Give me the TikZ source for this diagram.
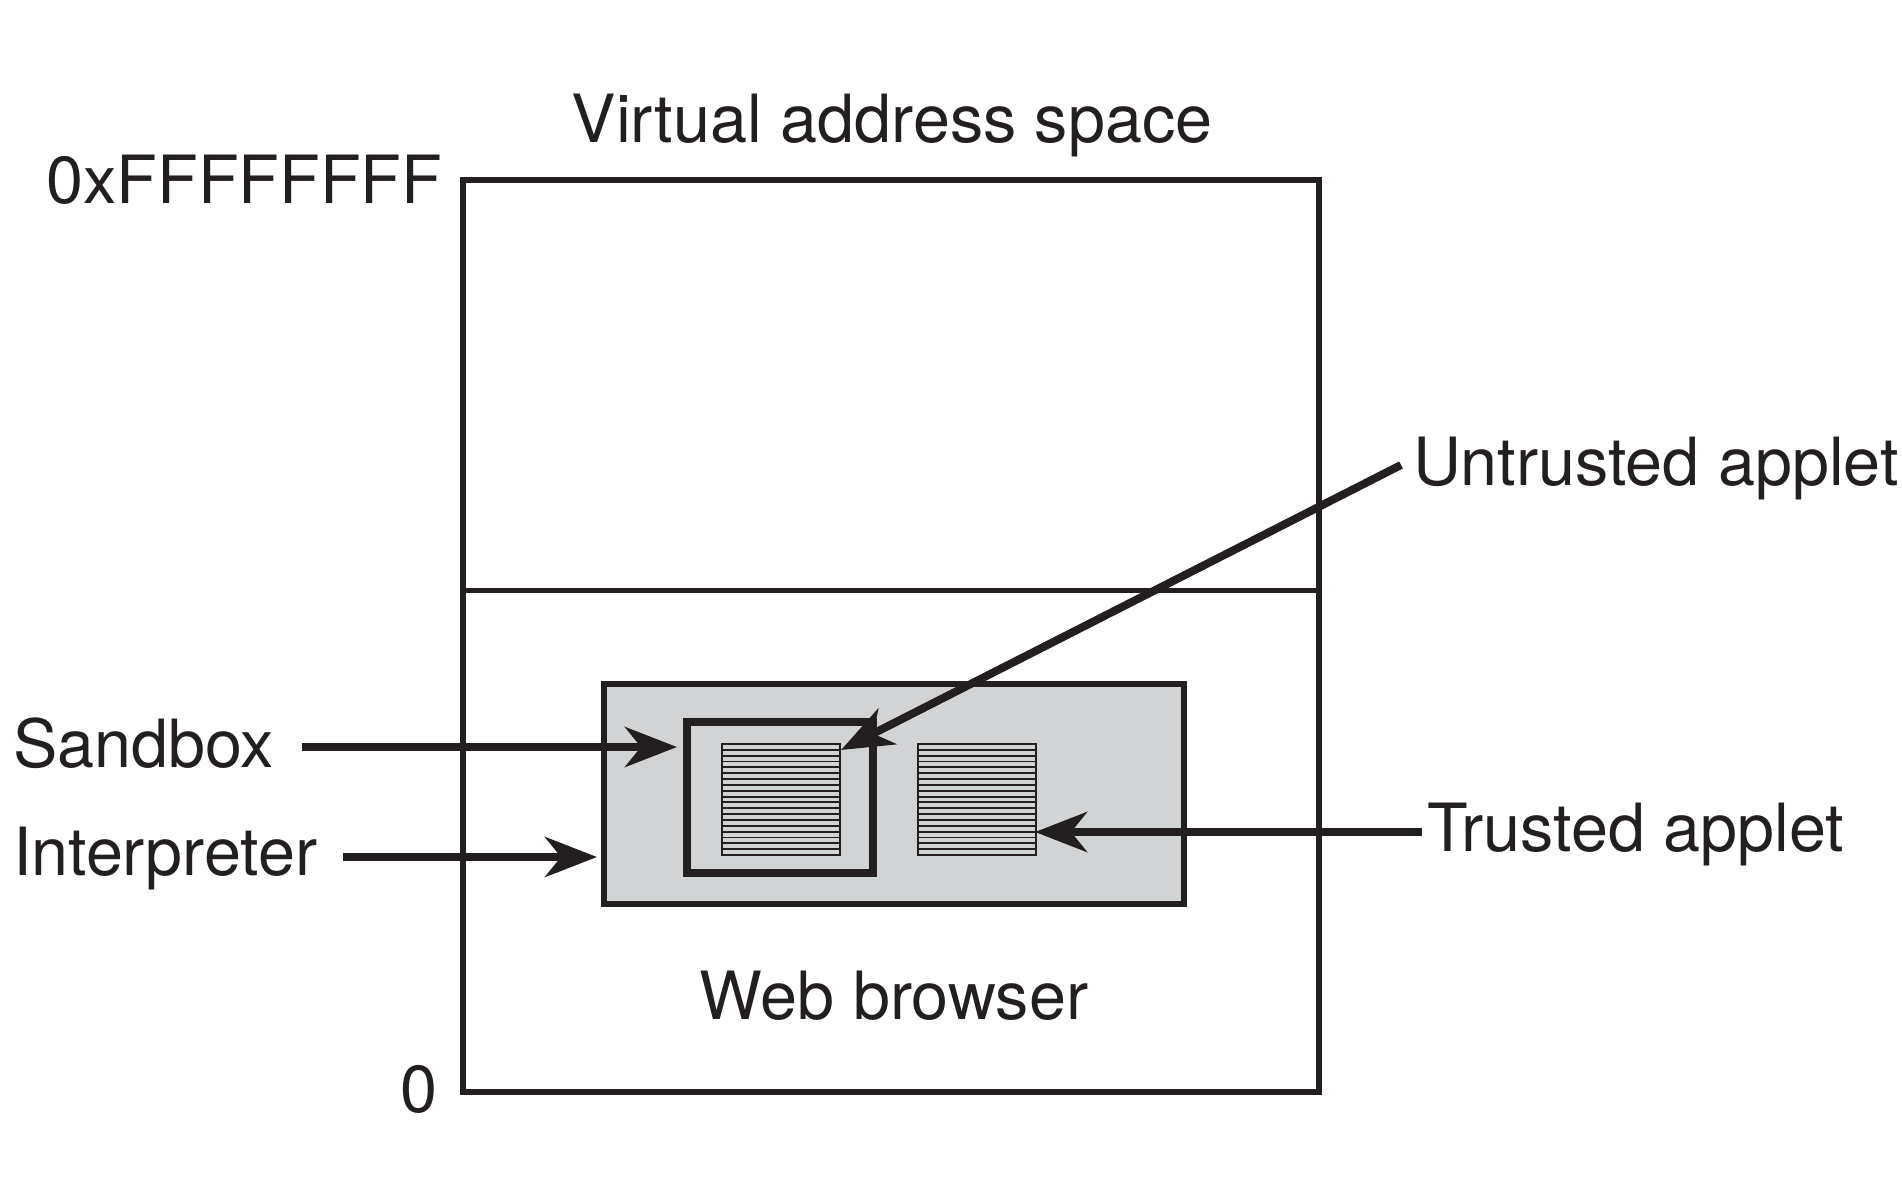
\documentclass[tikz,border=0pt]{standalone}
\usepackage{fontspec}
\setmainfont{TeX Gyre Heros}
\usetikzlibrary{arrows.meta,calc}
\definecolor{ink}{RGB}{35,31,32}
\definecolor{panel}{RGB}{210,211,213}
\begin{document}
\begin{tikzpicture}[x=1pt,y=-1pt,
  lbl/.style={inner sep=0pt, outer sep=0pt, font=\fontsize{66.5}{80}\selectfont, text=ink},
  box/.style={draw=ink, rectangle, inner sep=0pt, outer sep=0pt},
  arr/.style={draw=ink, line width=8pt, -{Stealth[length=52pt,width=40pt,inset=16pt]}},
  hatchbox/.style={box, line width=2pt, fill=panel},
  hatchline/.style={draw=ink, line width=1.9pt}]
\useasboundingbox (0,0) rectangle (1902,1200);

% main address-space box
\node[box, line width=6pt, minimum width=856pt, minimum height=912pt] (vas) at (891,636) {};
\coordinate (div) at (0,590);
\draw[ink, line width=5pt] (vas.west |- div) -- (vas.east |- div);

% interpreter (web browser) panel
\node[box, line width=6pt, fill=panel, minimum width=580pt, minimum height=220pt] (interp) at (894,794) {};
% sandbox
\node[box, line width=8pt, minimum width=186pt, minimum height=151pt] (sbox) at (780,797.5) {};
% applets
\node[hatchbox, minimum width=118pt, minimum height=111pt] (ua) at (781,799.5) {};
\node[hatchbox, minimum width=118pt, minimum height=111pt] (ta) at (977,799.5) {};
\foreach \b in {ua,ta}{
  \foreach \i in {1,...,18}{
    \draw[hatchline] ($(\b.north west)!\i/19!(\b.south west)$) -- ($(\b.north east)!\i/19!(\b.south east)$);
  }
}

% labels
\node[lbl, anchor=base] (lvas) at (892,142) {Virtual address space};
\node[lbl, anchor=base east] (lmax) at (442,203) {0xFFFFFFFF};
\node[lbl, anchor=base east] (lzero) at (437,1112) {0};
\node[lbl, anchor=base west] (luntr) at (1413,485) {Untrusted applet};
\node[lbl, anchor=base west] (lsand) at (13,767) {Sandbox};
\node[lbl, anchor=base west] (linterp) at (13,875) {Interpreter};
\node[lbl, anchor=base west] (ltr) at (1427,851) {Trusted applet};
\node[lbl, anchor=base] (lweb) at (894,1019) {Web browser};

% connectors
\coordinate (sandS) at (302,747);
\coordinate (interpS) at (343,857);
\coordinate (trS) at (1422,832);
\coordinate (untrS) at (1401,465);
\draw[arr, shorten >=10pt] (sandS) -- (sbox.west |- sandS);
\draw[arr, shorten >=7pt] (interpS) -- (interp.west |- interpS);
\draw[arr, shorten >=-1pt] (trS) -- (ta.east |- trS);
\draw[arr] (untrS) -- ([shift={(1pt,-6pt)}]ua.north east);
\end{tikzpicture}
\end{document}
